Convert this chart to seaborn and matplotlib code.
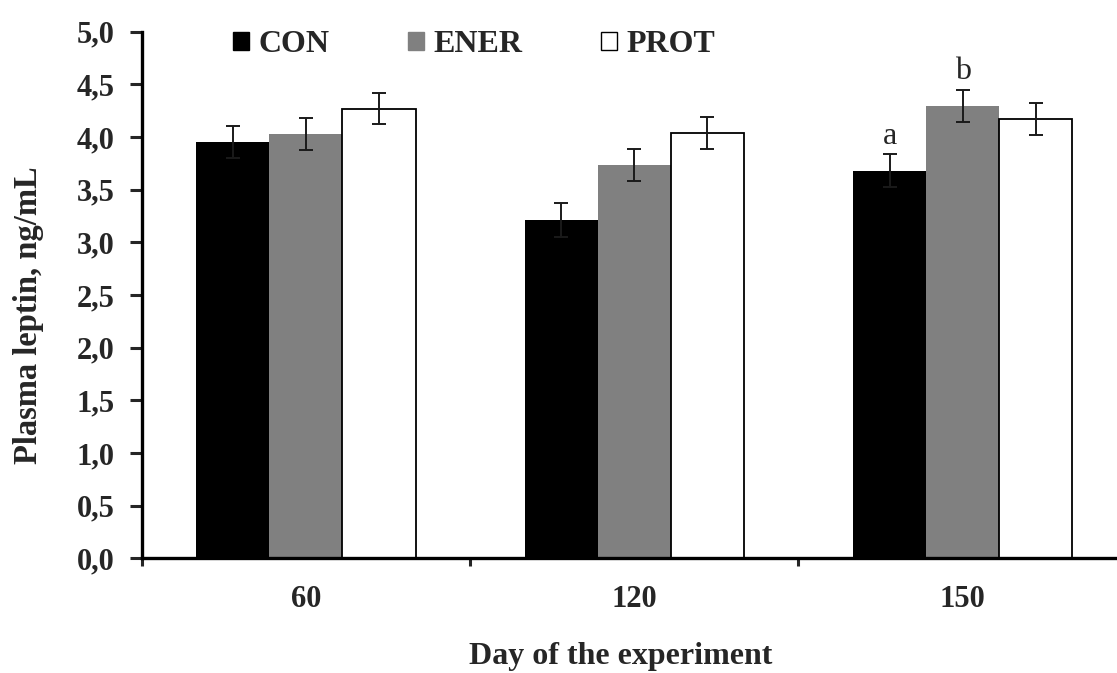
import numpy as np
import pandas as pd
import seaborn as sns
import matplotlib.pyplot as plt
from matplotlib.patches import Patch
from matplotlib.ticker import FixedLocator, MultipleLocator

days = ['60', '120', '150']
groups = ['CON', 'ENER', 'PROT']
con = [3.95, 3.21, 3.68]
ener = [4.03, 3.735, 4.295]
prot = [4.27, 4.04, 4.17]
con_se = [0.15, 0.16, 0.155]
ener_se = [0.15, 0.15, 0.155]
prot_se = [0.15, 0.15, 0.155]
letters = {('150', 'CON'): 'a', ('150', 'ENER'): 'b'}

df = pd.DataFrame({
    'day': days * 3,
    'group': [g for g in groups for _ in days],
    'value': con + ener + prot,
    'se': con_se + ener_se + prot_se,
})

sns.set_theme(style='white')
plt.rcParams['font.family'] = ['Liberation Serif', 'DejaVu Serif']
colors = {'CON': '#000000', 'ENER': '#808080', 'PROT': '#ffffff'}

fig = plt.figure(figsize=(11.17, 6.73), dpi=100)
ax = fig.add_axes([0.1269, 0.1704, 0.8731, 0.7825])
sns.barplot(data=df, x='day', y='value', hue='group', order=days, hue_order=groups,
            palette=colors, width=0.668, saturation=1, errorbar=None, legend=False,
            linewidth=0, ax=ax)

for g, cont in zip(groups, ax.containers):
    sub = df[df['group'] == g].set_index('day').loc[days]
    xs = [b.get_x() + b.get_width() / 2 for b in cont]
    if g == 'PROT':
        for b in cont:
            b.set_edgecolor('black')
            b.set_linewidth(1.3)
    ax.errorbar(xs, sub['value'], yerr=sub['se'], fmt='none', ecolor='#1a1a1a',
                elinewidth=1.4, capsize=4.8, capthick=1.4, zorder=5)
    for x, d, v, s in zip(xs, days, sub['value'], sub['se']):
        if (d, g) in letters:
            ax.text(x, v + s + 0.03, letters[(d, g)], ha='center', va='bottom',
                    fontsize=23, family='Liberation Serif')

ax.set_ylim(0, 5)
ax.set_xlim(-0.5, 2.47)
ax.yaxis.set_major_locator(MultipleLocator(0.5))
ax.set_yticklabels([f'{v:.1f}'.replace('.', ',') for v in ax.get_yticks()])
ax.xaxis.set_major_locator(FixedLocator([-0.5, 0.5, 1.5]))
ax.xaxis.set_minor_locator(FixedLocator([0, 1, 2]))
ax.set_xticklabels([])
ax.set_xticklabels(days, minor=True)
ax.tick_params(axis='x', which='major', direction='out', length=6, width=2.2, bottom=True)
ax.tick_params(axis='x', which='minor', length=0, pad=19, labelsize=22)
ax.tick_params(axis='y', direction='out', length=8.6, width=2.2, pad=11, labelsize=22, left=True)
for lab in ax.get_xticklabels(minor=True) + ax.get_yticklabels():
    lab.set_fontweight('bold')

sns.despine(ax=ax)
for s in ['left', 'bottom']:
    ax.spines[s].set_linewidth(2.4)
    ax.spines[s].set_color('black')

ax.set_xlabel('Day of the experiment', fontsize=23, fontweight='bold')
ax.set_ylabel('Plasma leptin, ng/mL', fontsize=23.5, fontweight='bold')
ax.xaxis.set_label_coords(0.491, -0.158)
ax.yaxis.set_label_coords(-0.1, 0.462)

handles = [Patch(facecolor=colors[g], edgecolor='black' if g == 'PROT' else colors[g],
                 linewidth=1) for g in groups]
ax.legend(handles, groups, loc='center left', bbox_to_anchor=(0.094, 0.975), ncol=3,
          frameon=False, handlelength=0.5, handleheight=0.5, handletextpad=0.3,
          columnspacing=2.45, borderpad=0, borderaxespad=0,
          prop={'family': 'Liberation Serif', 'weight': 'bold', 'size': 23})

fig.savefig('out.png', dpi=100)
